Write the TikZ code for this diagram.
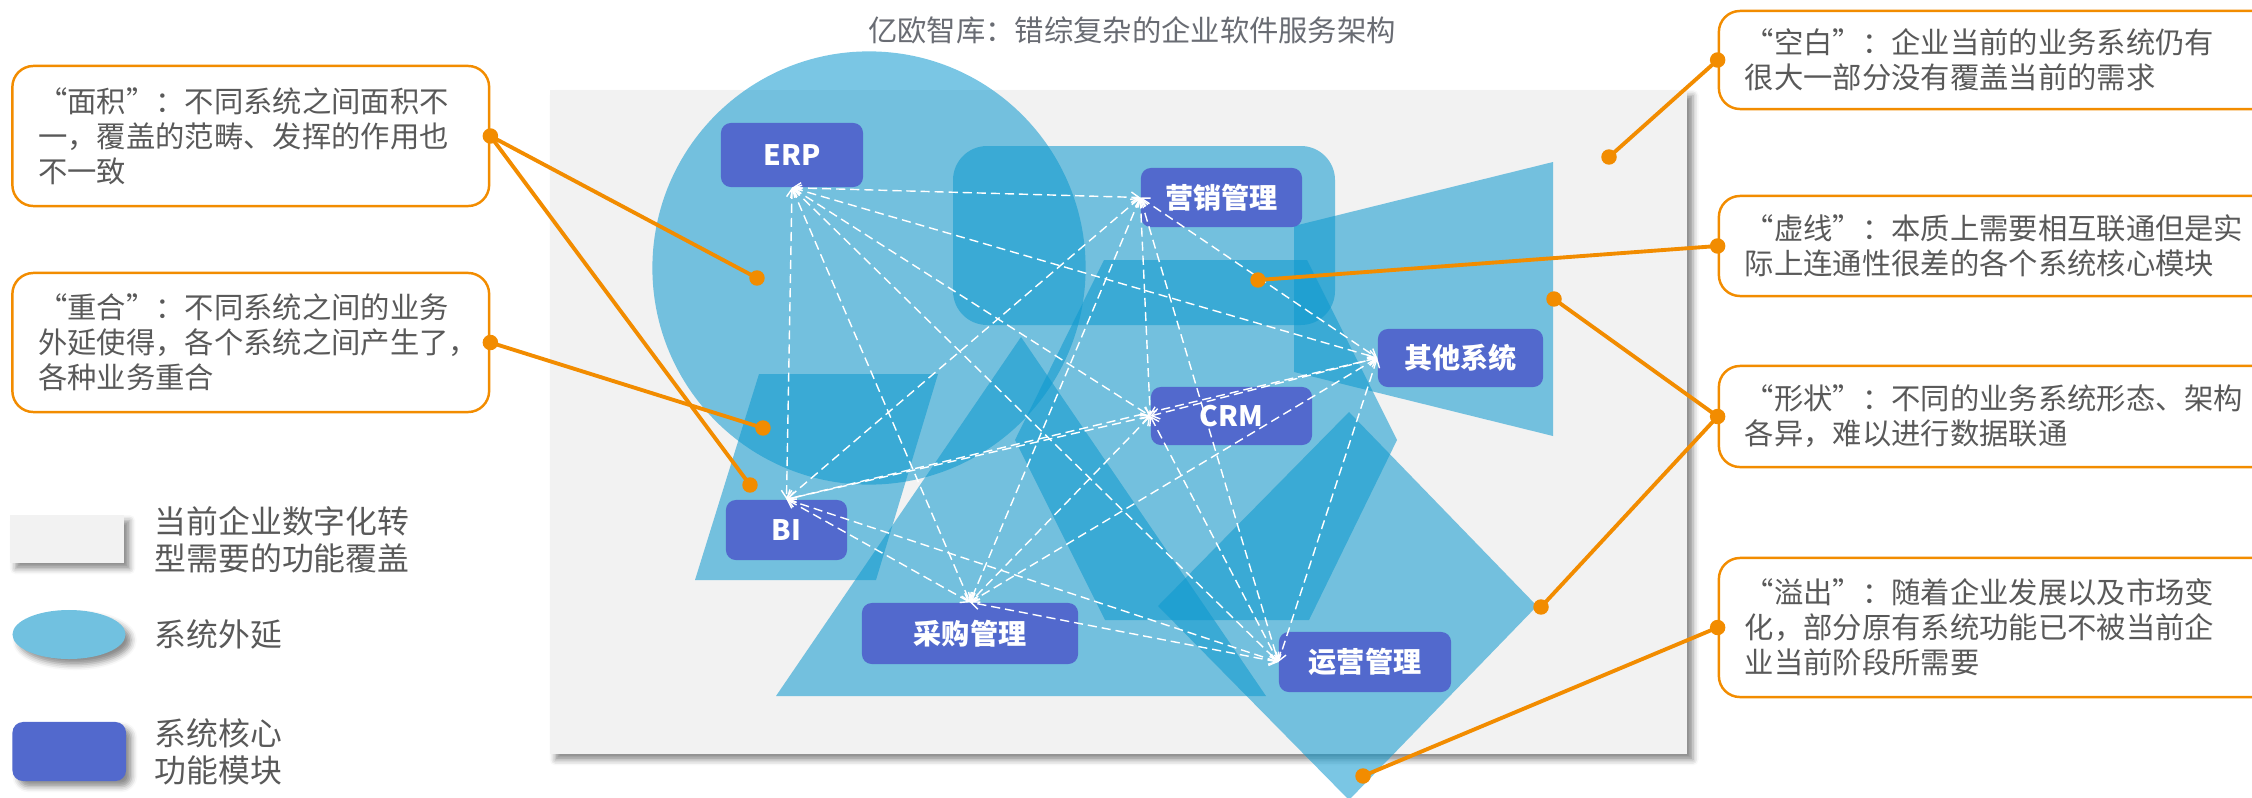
\documentclass[tikz,border=0pt]{standalone}
\usepackage{fontspec}
\setmainfont{Noto Sans CJK SC}
\usetikzlibrary{arrows.meta,shapes.geometric,shadows.blur}
\definecolor{extc}{RGB}{12,152,206}
\definecolor{corec}{RGB}{82,105,205}
\definecolor{orgc}{RGB}{242,140,0}
\definecolor{txtc}{RGB}{89,89,89}
\definecolor{ttlc}{RGB}{105,108,115}
\definecolor{bgc}{RGB}{242,242,242}
\definecolor{lgextc}{RGB}{113,193,224}
\newcommand\myq[1]{\makebox[1em][r]{“}#1\makebox[1em][l]{”}\makebox[1em][l]{：}}
\begin{document}
\begin{tikzpicture}[x=0.01cm,y=-0.01cm,
  ext/.style={fill=extc,fill opacity=0.55,draw=none},
  core/.style={fill=corec,rounded corners=2.8pt,text=white,font=\fontsize{8pt}{9pt}\selectfont\bfseries,inner sep=0pt},
  link/.style={draw=white,line width=0.4pt,dash pattern=on 2.6pt off 1.4pt,arrows={Straight Barb[length=2.2pt,width=3pt]-Straight Barb[length=2.2pt,width=3pt]}},
  callout/.style={draw=orgc,line width=0.7pt,rounded corners=6pt,inner sep=0pt},
  ctext/.style={text=txtc,font=\fontsize{8.34pt}{9.9pt}\selectfont,align=left,inner sep=0pt,anchor=west},
  ltext/.style={text=txtc,font=\fontsize{9.05pt}{10.5pt}\selectfont,align=left,inner sep=0pt,anchor=west},
  lead/.style={draw=orgc,line width=1.1pt},
  dotc/.style={fill=orgc},
  shd/.style={blur shadow={shadow xshift=1.6pt,shadow yshift=-1.6pt,shadow blur radius=1.6pt,shadow opacity=45}}
]
\useasboundingbox (0,0) rectangle (2252,797);

% title
\node[text=ttlc,font=\fontsize{8.34pt}{10pt}\selectfont,inner sep=0pt] (title) at (1132,30) {亿欧智库：错综复杂的企业软件服务架构};

% coverage area
\node[fill=bgc,minimum width=11.37cm,minimum height=6.64cm,inner sep=0pt,shd] (area) at (1118.5,422) {};

% system extensions
\fill[ext] (869,268) circle[radius=2.165cm];
\fill[ext,rounded corners=9.7pt] (953,146) rectangle (1335,325);
\fill[ext] (1294,226) -- (1553,162) -- (1553,436) -- (1294,372) -- cycle;
\fill[ext] (759,374) -- (938,374) -- (876,580) -- (695,580) -- cycle;
\fill[ext] (1021,337) -- (1266,696) -- (776,696) -- cycle;
\fill[ext] (1104,260) -- (1307,260) -- (1397,440) -- (1309,620) -- (1105,620) -- (1015,440) -- cycle;
\fill[ext] (1349,412) -- (1537,606) -- (1349,800) -- (1158,606) -- cycle;

% core modules
\node[core,minimum width=1.42cm,minimum height=0.64cm] (erp) at (792,155) {ERP};
\node[core,minimum width=1.21cm,minimum height=0.60cm] (bi) at (786.5,530) {BI};
\node[core,minimum width=1.61cm,minimum height=0.59cm] (yx) at (1221.5,197.5) {营销管理};
\node[core,minimum width=1.61cm,minimum height=0.58cm] (crm) at (1231.5,416) {CRM};
\node[core,minimum width=1.65cm,minimum height=0.58cm] (qt) at (1460.5,358) {其他系统};
\node[core,minimum width=1.72cm,minimum height=0.60cm] (yy) at (1365,662) {运营管理};
\node[core,minimum width=2.16cm,minimum height=0.61cm] (cg) at (970,633.5) {采购管理};

% dashed links
\draw[link] (erp.south) -- (yx.west);
\draw[link] (erp.south) -- (crm.west);
\draw[link] (erp.south) -- (qt.west);
\draw[link] (erp.south) -- (yy.west);
\draw[link] (erp.south) -- (cg.north);
\draw[link] (erp.south) -- (bi.north);
\draw[link] (yx.west) -- (crm.west);
\draw[link] (yx.west) -- (qt.west);
\draw[link] (yx.west) -- (yy.west);
\draw[link] (yx.west) -- (cg.north);
\draw[link] (yx.west) -- (bi.north);
\draw[link] (crm.west) -- (qt.west);
\draw[link] (crm.west) -- (yy.west);
\draw[link] (crm.west) -- (cg.north);
\draw[link] (crm.west) -- (bi.north);
\draw[link] (qt.west) -- (yy.west);
\draw[link] (qt.west) -- (cg.north);
\draw[link] (qt.west) -- (bi.north);
\draw[link] (yy.west) -- (cg.north);
\draw[link] (yy.west) -- (bi.north);
\draw[link] (cg.north) -- (bi.north);

% callouts left
\node[callout,minimum width=4.765cm,minimum height=1.40cm] (c1) at (250.75,136) {};
\node[ctext] (t1) at (37.5,136) {\myq{面积}不同系统之间面积不\\一，覆盖的范畴、发挥的作用也\\不一致};
\node[callout,minimum width=4.765cm,minimum height=1.39cm] (c2) at (250.75,342.5) {};
\node[ctext] (t2) at (37.5,342.5) {\myq{重合}不同系统之间的业务\\外延使得，各个系统之间产生了，\\各种业务重合};

% callouts right
\node[callout,minimum width=5.61cm,minimum height=0.98cm] (c3) at (1999.5,60) {};
\node[ctext] (t3) at (1744,60) {\myq{空白}企业当前的业务系统仍有\\很大一部分没有覆盖当前的需求};
\node[callout,minimum width=5.61cm,minimum height=1.00cm] (c4) at (1999.5,246) {};
\node[ctext] (t4) at (1744,246) {\myq{虚线}本质上需要相互联通但是实\\际上连通性很差的各个系统核心模块};
\node[callout,minimum width=5.61cm,minimum height=1.01cm] (c5) at (1999.5,416.5) {};
\node[ctext] (t5) at (1744,416.5) {\myq{形状}不同的业务系统形态、架构\\各异，难以进行数据联通};
\node[callout,minimum width=5.61cm,minimum height=1.39cm] (c6) at (1999.5,627.5) {};
\node[ctext] (t6) at (1744,627.5) {\myq{溢出}随着企业发展以及市场变\\化，部分原有系统功能已不被当前企\\业当前阶段所需要};

% lead ends
\coordinate (d1a) at (757,278);
\coordinate (d1b) at (750,485);
\coordinate (d2) at (763,428);
\coordinate (d3) at (1609,157);
\coordinate (d4) at (1258,280);
\coordinate (d5a) at (1554,299);
\coordinate (d5b) at (1541,607);
\coordinate (d6) at (1363,776);

\draw[lead] (c1.east) -- (d1a);
\draw[lead] (c1.east) -- (d1b);
\draw[lead] (c2.east) -- (d2);
\draw[lead] (c3.west) -- (d3);
\draw[lead] (c4.west) -- (d4);
\draw[lead] (c5.west) -- (d5a);
\draw[lead] (c5.west) -- (d5b);
\draw[lead] (c6.west) -- (d6);
\foreach \p in {c1.east,c2.east,c3.west,c4.west,c5.west,c6.west,d1a,d1b,d2,d3,d4,d5a,d5b,d6}
  \fill[dotc] (\p) circle[radius=2.2pt];

% legend
\node[fill=bgc,minimum width=1.14cm,minimum height=0.48cm,inner sep=0pt,shd] (lg1) at (67,539) {};
\node[ltext] (lt1) at (154,539.5) {当前企业数字化转\\型需要的功能覆盖};
\node[ellipse,fill=lgextc,minimum width=1.13cm,minimum height=0.49cm,inner sep=0pt,shd] (lg2) at (69,634.5) {};
\node[ltext] (lt2) at (154,634) {系统外延};
\node[fill=corec,rounded corners=3pt,minimum width=1.135cm,minimum height=0.59cm,inner sep=0pt,shd] (lg3) at (69.25,751.5) {};
\node[ltext] (lt3) at (154,752) {系统核心\\功能模块};
\end{tikzpicture}
\end{document}
